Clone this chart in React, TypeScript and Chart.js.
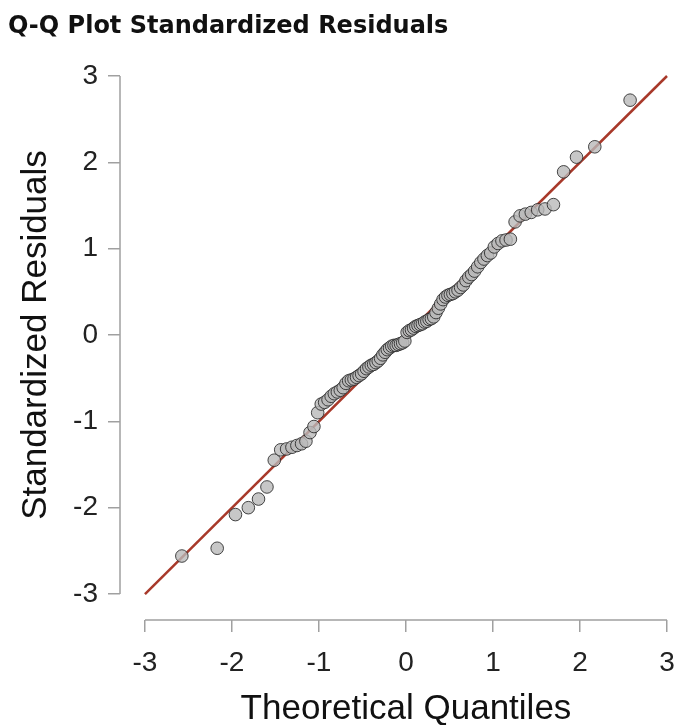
import { useEffect, useRef } from 'react';
import { Chart, registerables } from 'chart.js';

Chart.register(...registerables);

// Theoretical normal quantiles for n = 100, p = (i - 0.5) / 100
const theoreticalQuantiles = [
  -2.576, -2.170, -1.960, -1.812, -1.695, -1.598, -1.514, -1.440, -1.372, -1.311,
  -1.254, -1.200, -1.150, -1.103, -1.058, -1.015, -0.974, -0.935, -0.896, -0.860,
  -0.824, -0.789, -0.755, -0.722, -0.690, -0.659, -0.628, -0.598, -0.568, -0.539,
  -0.510, -0.482, -0.454, -0.426, -0.399, -0.372, -0.345, -0.319, -0.292, -0.266,
  -0.240, -0.215, -0.189, -0.164, -0.138, -0.113, -0.088, -0.063, -0.038, -0.013,
  0.013, 0.038, 0.063, 0.088, 0.113, 0.138, 0.164, 0.189, 0.215, 0.240,
  0.266, 0.292, 0.319, 0.345, 0.372, 0.399, 0.426, 0.454, 0.482, 0.510,
  0.539, 0.568, 0.598, 0.628, 0.659, 0.690, 0.722, 0.755, 0.789, 0.824,
  0.860, 0.896, 0.935, 0.974, 1.015, 1.058, 1.103, 1.150, 1.200, 1.254,
  1.311, 1.372, 1.440, 1.514, 1.598, 1.695, 1.812, 1.960, 2.170, 2.576,
];

// Sorted standardized residuals
const standardizedResiduals = [
  -2.56, -2.47, -2.08, -2.00, -1.90, -1.76, -1.45, -1.33, -1.32, -1.30,
  -1.28, -1.26, -1.23, -1.13, -1.06, -0.90, -0.80, -0.78, -0.75, -0.71,
  -0.68, -0.66, -0.64, -0.61, -0.56, -0.53, -0.52, -0.51, -0.49, -0.47,
  -0.45, -0.42, -0.39, -0.37, -0.35, -0.34, -0.32, -0.30, -0.27, -0.23,
  -0.20, -0.17, -0.15, -0.13, -0.12, -0.12, -0.11, -0.10, -0.09, -0.07,
  0.03, 0.05, 0.06, 0.08, 0.10, 0.11, 0.12, 0.13, 0.15, 0.16,
  0.18, 0.19, 0.21, 0.26, 0.31, 0.36, 0.41, 0.44, 0.46, 0.47,
  0.48, 0.50, 0.52, 0.55, 0.58, 0.63, 0.67, 0.70, 0.74, 0.79,
  0.84, 0.88, 0.92, 0.95, 1.02, 1.06, 1.09, 1.10, 1.11, 1.31,
  1.38, 1.40, 1.42, 1.45, 1.46, 1.51, 1.89, 2.06, 2.18, 2.72,
];

// Identity reference line end points
const referenceLine = [-3, 3];

// Tick values shared by both axes
const axisTicks = [-3, -2, -1, 0, 1, 2, 3];

const TITLE = 'Q-Q Plot Standardized Residuals';
const X_TITLE = 'Theoretical Quantiles';
const Y_TITLE = 'Standardized Residuals';

const AXIS_GREY = '#a0a0a0';
const LABEL_FONT = '"Liberation Sans", Arial, sans-serif';
const AXIS_TITLE_FONT = `35px ${LABEL_FONT}`;

// Axis lines and axis titles that only span the tick range, detached from the plotting region
const rangeAxes = {
  id: 'rangeAxes',
  beforeDatasetsDraw(chart: any) {
    const { ctx, chartArea, scales } = chart;
    const x = scales.x;
    const y = scales.y;
    const first = axisTicks[0];
    const last = axisTicks[axisTicks.length - 1];
    ctx.save();
    ctx.strokeStyle = AXIS_GREY;
    ctx.lineWidth = 1.5;
    ctx.beginPath();
    ctx.moveTo(x.getPixelForValue(first), chartArea.bottom);
    ctx.lineTo(x.getPixelForValue(last), chartArea.bottom);
    ctx.moveTo(chartArea.left, y.getPixelForValue(first));
    ctx.lineTo(chartArea.left, y.getPixelForValue(last));
    ctx.stroke();

    ctx.fillStyle = '#111';
    ctx.font = AXIS_TITLE_FONT;
    ctx.textAlign = 'center';
    ctx.textBaseline = 'middle';
    const xMid = (x.getPixelForValue(first) + x.getPixelForValue(last)) / 2;
    ctx.fillText(X_TITLE, xMid, chartArea.bottom + 89);

    const yMid = (y.getPixelForValue(first) + y.getPixelForValue(last)) / 2;
    ctx.translate(36, yMid);
    ctx.rotate(-Math.PI / 2);
    ctx.fillText(Y_TITLE, 0, 0);
    ctx.restore();
  },
};

export default function App() {
  const canvasRef = useRef<HTMLCanvasElement | null>(null);

  useEffect(() => {
    const canvas = canvasRef.current;
    if (!canvas) return;

    const points = theoreticalQuantiles.map((q, i) => ({ x: q, y: standardizedResiduals[i] }));
    const line = referenceLine.map((v) => ({ x: v, y: v }));

    const chart = new Chart(canvas, {
      type: 'scatter',
      data: {
        datasets: [
          {
            type: 'scatter',
            data: points,
            pointRadius: 6.3,
            pointHoverRadius: 6.3,
            pointBackgroundColor: 'rgba(185,185,185,0.8)',
            pointBorderColor: 'rgba(40,40,40,0.85)',
            pointBorderWidth: 1,
            order: 1,
            clip: false,
          },
          {
            type: 'line',
            data: line,
            borderColor: '#a8392a',
            borderWidth: 2.5,
            pointRadius: 0,
            fill: false,
            order: 2,
            clip: false,
          },
        ],
      },
      options: {
        responsive: false,
        animation: false,
        events: [],
        layout: { padding: { left: 8, right: 11, top: 0, bottom: 0 } },
        plugins: {
          legend: { display: false },
          tooltip: { enabled: false },
          title: {
            display: true,
            text: TITLE,
            align: 'start',
            color: '#111',
            font: { family: '"DejaVu Sans", sans-serif', weight: 'bold', size: 24, lineHeight: 1.2 },
            padding: { top: 12, bottom: 35.2 },
          },
        },
        scales: {
          x: {
            type: 'linear',
            min: -3.287,
            max: 3,
            afterBuildTicks: (scale: any) => {
              scale.ticks = axisTicks.map((v) => ({ value: v }));
            },
            afterFit: (scale: any) => {
              scale.height = 105;
              scale.paddingLeft = 0;
              scale.paddingRight = 0;
            },
            border: { display: false },
            grid: {
              drawOnChartArea: false,
              drawTicks: true,
              tickLength: 12,
              color: AXIS_GREY,
              lineWidth: 1.5,
            },
            ticks: {
              font: { family: LABEL_FONT, size: 28 },
              color: '#222',
              padding: 14,
              maxRotation: 0,
              autoSkip: false,
            },
          },
          y: {
            type: 'linear',
            min: -3.301,
            max: 3,
            afterBuildTicks: (scale: any) => {
              scale.ticks = axisTicks.map((v) => ({ value: v }));
            },
            afterFit: (scale: any) => {
              scale.width = 112;
              scale.paddingTop = 0;
              scale.paddingBottom = 0;
            },
            border: { display: false },
            grid: {
              drawOnChartArea: false,
              drawTicks: true,
              tickLength: 12,
              color: AXIS_GREY,
              lineWidth: 1.5,
            },
            ticks: {
              font: { family: LABEL_FONT, size: 28 },
              color: '#222',
              padding: 10,
              autoSkip: false,
            },
          },
        },
      },
      plugins: [rangeAxes],
    } as any);

    return () => chart.destroy();
  }, []);

  return (
    <div style={{ position: 'absolute', left: 0, top: 0, width: 678, height: 725, background: '#fff' }}>
      <canvas ref={canvasRef} width={678} height={725} style={{ display: 'block' }} />
    </div>
  );
}
